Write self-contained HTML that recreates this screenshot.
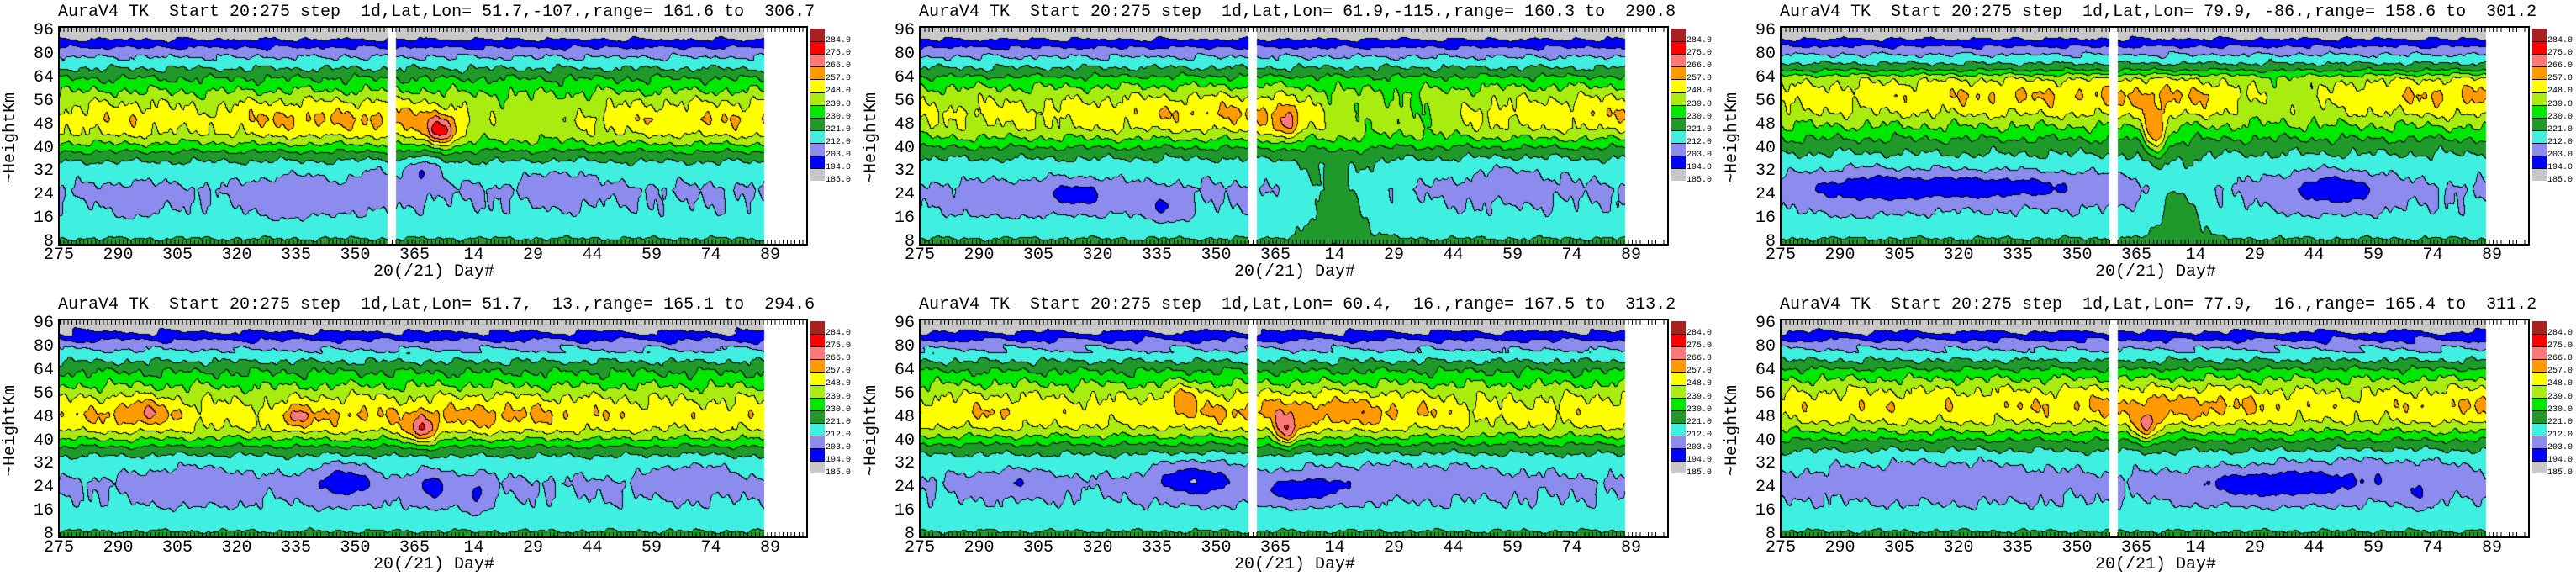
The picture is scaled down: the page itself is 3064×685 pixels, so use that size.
<!DOCTYPE html>
<html><head><meta charset="utf-8">
<style>
body{margin:0;background:#fff;width:3064px;height:685px;overflow:hidden;position:relative;font-family:"Liberation Mono",monospace;}
.t{position:absolute;font-size:20px;white-space:pre;line-height:20px;color:#000;}
.frame{position:absolute;border:2px solid #000;box-sizing:border-box;width:892px;height:261px;}
.tk{position:absolute;height:5px;width:888px;background:repeating-linear-gradient(90deg,#000 0 1px,transparent 1px 4.7px);}
canvas{position:absolute;}
.cb{position:absolute;width:17px;}
.cl{position:absolute;font-size:10px;line-height:10px;white-space:pre;}
.yl{position:absolute;font-size:20px;line-height:20px;white-space:pre;transform:rotate(-90deg);transform-origin:left top;}
</style></head><body>
<div id="root"></div>
<script>
var titles=[
"AuraV4 TK  Start 20:275 step  1d,Lat,Lon= 51.7,-107.,range= 161.6 to  306.7",
"AuraV4 TK  Start 20:275 step  1d,Lat,Lon= 61.9,-115.,range= 160.3 to  290.8",
"AuraV4 TK  Start 20:275 step  1d,Lat,Lon= 79.9, -86.,range= 158.6 to  301.2",
"AuraV4 TK  Start 20:275 step  1d,Lat,Lon= 51.7,  13.,range= 165.1 to  294.6",
"AuraV4 TK  Start 20:275 step  1d,Lat,Lon= 60.4,  16.,range= 167.5 to  313.2",
"AuraV4 TK  Start 20:275 step  1d,Lat,Lon= 77.9,  16.,range= 165.4 to  311.2"];
var cols=["#c8c8c8","#0000ff","#8c8cee","#3ff0e0","#1f9a2a","#00e800","#a8ec10","#ffff00","#ff9a00","#ff7878","#ff0000","#a82020"];
var L=[194,203,212,221,230,239,248,257,266,275,284];
var H=[99,93,89,85,80,75,70,65,61,57,51,46,42,38,34,26,18,11,7];
var V=[186,190,196,203,210,216,222,229,237,245,251,247,237,225,217,211,213,218,225];
var P=[
{hp:50,gap:1,amp:[0,5,-1,7,7,9,-6,-6,3,5,6],bl:[[97,46,4,5,28],[92,32,4,5,-14],[60,24,10,8,-6],[127,28,8,6,-6],[20,22,6,6,-4],[80,28,6,8,-5]]},
{hp:52,gap:1,amp:[-3,0,0,4,6,8,-8,-10,0,3,5],bl:[[93,48,3,5,18],[106,22,10,15,12],[40,24,10,5,-12],[62,20,6,5,-10],[20,22,10,6,-5],[150,30,12,6,-5]]},
{hp:58,gap:1,amp:[0,2,4,6,6,8,6,-8,2,6,9],bl:[[47,27,35,5,-14],[140,26,12,6,-15],[95,45,3,8,28],[101,20,7,14,12],[20,26,14,8,-6]]},
{hp:49,gap:0,amp:[4,8,2,0,8,4,10,6,4,2,4],bl:[[72,26,8,6,-15],[95,24,5,6,-11],[106,22,3,6,-11],[92,44,4,5,24],[60,48,4,4,16],[22,50,6,4,10],[35,26,14,7,-6],[160,28,10,6,-6]]},
{hp:50,gap:1,amp:[2,6,2,2,6,10,12,6,0,2,4],bl:[[25,26,10,4,-8],[70,27,10,6,-16],[97,23,10,4,-14],[93,43,3,5,26],[67,55,4,5,12],[120,28,30,6,-6]]},
{hp:52,gap:1,amp:[2,4,4,4,6,8,10,4,2,4,8],bl:[[125,25,22,5,-14],[150,30,30,6,-6],[93,45,3,5,24],[40,28,30,7,-6],[162,22,4,4,-8]]}];
function interp(h){for(var k=0;k<H.length-1;k++){if(h<=H[k]&&h>=H[k+1]){var t=(H[k]-h)/(H[k]-H[k+1]);return V[k]+t*(V[k+1]-V[k]);}}return h>H[0]?V[0]:V[V.length-1];}
function hOf(y){var ix=(y-37)/27.9;if(ix<1)return 96-16*ix;if(ix<2)return 80-16*(ix-1);return 64-8*(ix-2);}
var root=document.getElementById('root');
function add(html){root.insertAdjacentHTML('beforeend',html);}
var xl=["275","290","305","320","335","350","365","14","29","44","59","74","89"];
var yv=[96,80,64,56,48,40,32,24,16,8];
for(var p=0;p<6;p++){
 var c=p%3,r=Math.floor(p/3),ox=69+1024*c,oy=348*r;
 add('<div class="t" style="left:'+ox+'px;top:'+(5+oy)+'px">'+titles[p]+'</div>');
 add('<canvas id="c'+p+'" width="865" height="259" style="left:'+ox+'px;top:'+(32+oy)+'px"></canvas>');
 add('<div class="frame" style="left:'+ox+'px;top:'+(31+oy)+'px"></div>');
 add('<div class="tk" style="left:'+(ox+2)+'px;top:'+(33+oy)+'px"></div>');
 add('<div class="tk" style="left:'+(ox+2)+'px;top:'+(285+oy)+'px"></div>');
 for(var k=0;k<13;k++){var x=ox+1+k*70.5;add('<div class="t" style="left:'+(x-30)+'px;width:60px;text-align:center;top:'+(294+oy)+'px">'+xl[k]+'</div>');}
 for(var k=0;k<10;k++){var y=oy+37+k*27.9;add('<div class="t" style="left:'+(ox-45)+'px;width:40px;text-align:right;top:'+(y-10)+'px">'+yv[k]+'</div>');}
 add('<div class="t" style="left:'+(ox+375)+'px;top:'+(314+oy)+'px">20(/21) Day#</div>');
 add('<div class="yl" style="left:'+(ox-66)+'px;top:'+(218+oy)+'px">~HeightKm</div>');
 for(var k=0;k<12;k++){add('<div class="cb" style="left:'+(ox+895)+'px;top:'+(oy+34+k*15.1)+'px;height:15.2px;background:'+cols[11-k]+'"></div>');}
 for(var k=0;k<11;k++){add('<div style="position:absolute;left:'+(ox+895)+'px;width:17px;height:1px;background:#000;top:'+(oy+34+(k+1)*15.1)+'px"></div>');}
 var lab=["284.0","275.0","266.0","257.0","248.0","239.0","230.0","221.0","212.0","203.0","194.0","185.0"];
 for(var k=0;k<12;k++){add('<div class="cl" style="left:'+(ox+913)+'px;top:'+(oy+44+k*15.1)+'px">'+lab[k]+'</div>');}
}
for(var p=0;p<6;p++){
 var cv=document.getElementById('c'+p),ctx=cv.getContext('2d');
 var W=865,Hh=259,img=ctx.createImageData(W,Hh),d=img.data,pr=P[p];
 var idx=new Int8Array(W*Hh);
 var rgb=cols.map(function(s){return [parseInt(s.substr(1,2),16),parseInt(s.substr(3,2),16),parseInt(s.substr(5,2),16)];});
 for(var j=0;j<Hh;j++){
  var h=hOf(j+32);
  var pk=Math.exp(-Math.pow((h-pr.hp)/7,2));
  for(var i=0;i<W;i++){
   var dd=i/4.7;
   var a=dd/18,ai=Math.min(9,Math.floor(a)),af=a-ai;
   var amp=pr.amp[ai]*(1-af)+pr.amp[ai+1]*af;
   var T=interp(h-(pr.hp-51)*Math.exp(-Math.pow((h-pr.hp)/18,2)))+amp*pk;
   for(var b=0;b<pr.bl.length;b++){var q=pr.bl[b];var e=Math.pow((dd-q[0])/q[2],2)+Math.pow((h-q[1])/q[3],2);if(e<6)T+=q[4]*Math.exp(-e);}
   var mid=Math.exp(-Math.pow((h-55)/20,2));
   T+=(1.6*Math.sin(dd*0.83+h*0.21+p)+1.2*Math.sin(dd*1.73-h*0.13+2*p)+1.5*Math.sin(dd*0.33+h*0.31+p*3)+0.6*Math.sin(dd*3.1+h*0.5))*(0.4+0.8*mid);
   if(h>76)T+=1.2*Math.sin(dd*0.6+h*0.5+p)+(p>=3?2*Math.sin(dd*0.3+h*0.4):0);
   var l=0;while(l<11&&T>=L[l])l++;
   idx[j*W+i]=l;
  }
 }
 for(var j=0;j<Hh;j++)for(var i=0;i<W;i++){
  var o=(j*W+i)*4,l=idx[j*W+i],col=rgb[l];
  var edge=(i<W-1&&idx[j*W+i+1]!=l)||(j<Hh-1&&idx[(j+1)*W+i]!=l);
  if(i>=840){col=[255,255,255];edge=false;}
  if(pr.gap&&i>=392&&i<=401){col=[255,255,255];edge=false;}
  if(edge)col=[0,0,0];
  d[o]=col[0];d[o+1]=col[1];d[o+2]=col[2];d[o+3]=255;
 }
 ctx.putImageData(img,0,0);
}
</script>
</body></html>
